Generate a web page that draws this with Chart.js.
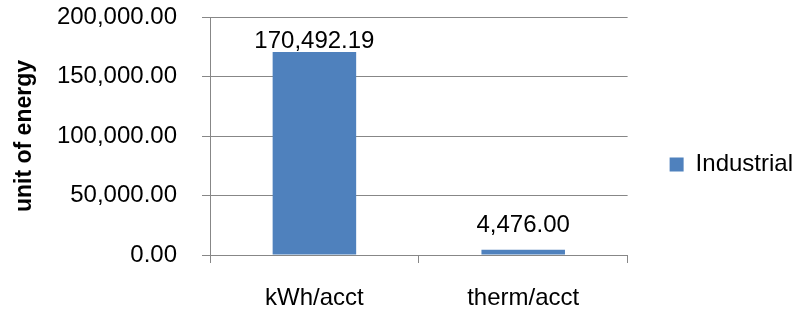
<!DOCTYPE html>
<html>
<head>
<meta charset="utf-8">
<script src="https://cdn.jsdelivr.net/npm/chart.js@4/dist/chart.umd.min.js"></script>
<style>
html,body{margin:0;padding:0;background:#fff;}
#wrap{width:794px;height:312px;}
</style>
</head>
<body>
<div id="wrap"><canvas id="c" width="794" height="312"></canvas></div>
<script>
const categories = ['kWh/acct', 'therm/acct'];
const seriesName = 'Industrial';
const industrial = [170492.19, 4476.00];
const yMin = 0;
const yMax = 200000;
const yStep = 50000;
const axisTitle = 'unit of energy';

const FONT = "'Liberation Sans', Arial, sans-serif";
const GRID = '#878787';
const fmt = v => Number(v).toLocaleString('en-US', {minimumFractionDigits: 2, maximumFractionDigits: 2});

const valueLabels = {
  id: 'valueLabels',
  afterDatasetsDraw(chart) {
    const ctx = chart.ctx;
    const meta = chart.getDatasetMeta(0);
    const area = chart.chartArea;
    ctx.save();
    ctx.font = '24px ' + FONT;
    ctx.fillStyle = '#000';
    ctx.textAlign = 'center';
    ctx.textBaseline = 'alphabetic';
    meta.data.forEach((bar, i) => {
      const y = Math.max(bar.y - 18, area.top + 31);
      ctx.fillText(fmt(chart.data.datasets[0].data[i]), bar.x, y);
    });
    ctx.restore();
  }
};

new Chart(document.getElementById('c'), {
  type: 'bar',
  data: {
    labels: categories,
    datasets: [{
      label: seriesName,
      data: industrial,
      backgroundColor: '#4F81BD',
      borderWidth: 0,
      categoryPercentage: 1.0,
      barPercentage: 0.4
    }]
  },
  options: {
    responsive: false,
    animation: false,
    devicePixelRatio: 1,
    layout: {padding: {top: 17, right: -9, bottom: 0, left: 0}},
    plugins: {
      tooltip: {enabled: false},
      legend: {
        position: 'right',
        align: 'center',
        labels: {
          boxWidth: 14,
          boxHeight: 14,
          padding: 42,
          color: '#000',
          font: {family: FONT, size: 24}
        }
      }
    },
    scales: {
      x: {
        grid: {
          offset: true,
          drawOnChartArea: false,
          drawTicks: true,
          tickLength: 8,
          color: GRID
        },
        border: {display: true, color: GRID, width: 1},
        ticks: {
          color: '#000',
          padding: 21,
          font: {family: FONT, size: 24},
          maxRotation: 0
        },
        afterFit(scale) {
          scale.height = 57;
          scale.paddingLeft = 0;
          scale.paddingRight = 0;
        }
      },
      y: {
        min: yMin,
        max: yMax,
        grid: {
          color: GRID,
          drawTicks: true,
          tickLength: 8
        },
        border: {display: true, color: GRID, width: 1},
        ticks: {
          stepSize: yStep,
          color: '#000',
          padding: 25,
          font: {family: FONT, size: 24},
          callback: v => fmt(v)
        },
        title: {
          display: true,
          text: axisTitle,
          color: '#000',
          font: {family: FONT, size: 23, weight: 'bold'},
          padding: {top: 11, bottom: 0}
        },
        afterFit(scale) {
          scale.width = 210;
          scale.paddingTop = 0;
          scale.paddingBottom = 0;
        }
      }
    }
  },
  plugins: [valueLabels]
});
</script>
</body>
</html>
